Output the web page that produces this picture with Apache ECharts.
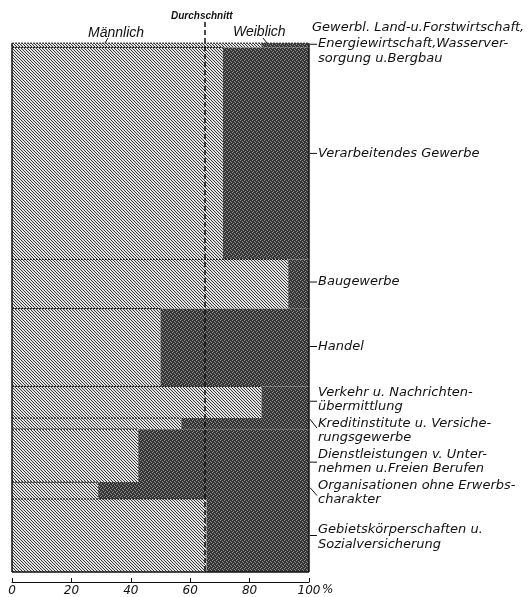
<!DOCTYPE html>
<html lang="de">
<head>
<meta charset="UTF-8">
<title>Beschäftigte nach Wirtschaftsbereichen</title>
<style>
  html, body { margin: 0; padding: 0; background: #fff; }
  #main { width: 531px; height: 597px; }
</style>
</head>
<body>
<div id="main"></div>
<script src="https://cdn.jsdelivr.net/npm/echarts@6/dist/echarts.min.js"></script>
<script>
// Wirtschaftsbereiche, von oben nach unten
var categories = [
  'Gewerbl. Land-u.Forstwirtschaft,\nEnergiewirtschaft,Wasserver-\nsorgung u.Bergbau',
  'Verarbeitendes Gewerbe',
  'Baugewerbe',
  'Handel',
  'Verkehr u. Nachrichten-\nübermittlung',
  'Kreditinstitute u. Versiche-\nrungsgewerbe',
  'Dienstleistungen v. Unter-\nnehmen u.Freien Berufen',
  'Organisationen ohne Erwerbs-\ncharakter',
  'Gebietskörperschaften u.\nSozialversicherung'
];
// Anteil des Bereichs an allen Beschäftigten (Balkenhöhe), %
var shareTotal = [0.8, 40.1, 9.3, 14.7, 6.0, 2.1, 10.0, 3.2, 13.8];
// Männeranteil im Bereich, %
var maleShare = [84, 71, 93, 50, 84, 57, 42.5, 29, 65.5];
// Durchschnitt Männeranteil, %
var avgMale = 65;
var xTicks = [0, 20, 40, 60, 80, 100];

// Lage der Beschriftungen rechts (px relativ zur Balkenmitte)
var labelLayout = [
  { dy: -2, l0: -1, l1: -1, lh: 15.5 },
  { dy: 0, l0: 0, l1: 0, lh: 14 },
  { dy: -2, l0: -2, l1: -2, lh: 14 },
  { dy: -1, l0: -1, l1: -1, lh: 14 },
  { dy: -2.5, l0: -1, l1: -1, lh: 13.5 },
  { dy: 7, l0: -4.5, l1: 4.5, lh: 13.5 },
  { dy: 6, l0: 6.5, l1: 6.5, lh: 13.5 },
  { dy: 2.5, l0: -3, l1: 5, lh: 14 },
  { dy: 2, l0: 0, l1: 0, lh: 15 }
];

function makePattern(bg, fg, pts, size) {
  var c = document.createElement('canvas');
  c.width = c.height = size;
  var ctx = c.getContext('2d');
  ctx.fillStyle = bg;
  ctx.fillRect(0, 0, size, size);
  ctx.fillStyle = fg;
  pts.forEach(function (p) { ctx.fillRect(p[0], p[1], 1, 1); });
  return { image: c, repeat: 'repeat' };
}
var malePattern = makePattern('#e2e2e2', '#3a3a3a', [[0, 0], [1, 1], [2, 2]], 3);
var femalePattern = makePattern('#363636', '#8c8c8c', [[0, 0], [2, 1], [1, 3], [3, 2]], 4);

var rows = [];
var acc = 0;
for (var i = 0; i < categories.length; i++) {
  rows.push([acc, acc + shareTotal[i], maleShare[i], i]);
  acc += shareTotal[i];
}

var font = 'italic 13px "DejaVu Sans", sans-serif';

function renderItem(params, api) {
  var start = api.value(0), end = api.value(1), male = api.value(2), idx = api.value(3);
  var tl = api.coord([0, start]);
  var br = api.coord([100, end]);
  var mx = api.coord([male, start])[0];
  var h = br[1] - tl[1];
  var ink = '#111';
  var ch = [
    { type: 'rect', shape: { x: tl[0], y: tl[1], width: mx - tl[0], height: h }, style: { fill: malePattern } },
    { type: 'rect', shape: { x: mx, y: tl[1], width: br[0] - mx, height: h }, style: { fill: femalePattern } },
    { type: 'line', shape: { x1: tl[0], y1: tl[1], x2: idx === 0 ? br[0] : mx, y2: tl[1] },
      style: { stroke: ink, lineWidth: 1, lineDash: [2, 1] } },
    { type: 'line', shape: { x1: tl[0], y1: tl[1], x2: tl[0], y2: br[1] }, style: { stroke: ink, lineWidth: 1.5 } },
    { type: 'line', shape: { x1: br[0], y1: tl[1], x2: br[0], y2: br[1] }, style: { stroke: ink, lineWidth: 1.5 } }
  ];
  if (idx === categories.length - 1) {
    ch.push({ type: 'line', shape: { x1: tl[0], y1: br[1], x2: br[0], y2: br[1] }, style: { stroke: ink, lineWidth: 1.5 } });
  }
  var mid = (tl[1] + br[1]) / 2;
  var lay = labelLayout[idx];
  ch.push({ type: 'line', shape: { x1: br[0] + 1, y1: mid + lay.l0, x2: br[0] + 8, y2: mid + lay.l1 },
    style: { stroke: ink, lineWidth: 1 } });
  var lines = categories[idx].split('\n');
  lines.forEach(function (t, k) {
    ch.push({ type: 'text', style: {
      text: t,
      x: br[0] + 9 + (idx === 0 && k === 0 ? -6 : 0),
      y: mid + lay.dy + (k - (lines.length - 1) / 2) * lay.lh,
      align: 'left', verticalAlign: 'middle', font: font, fill: ink
    } });
  });
  return { type: 'group', children: ch };
}

var myChart = echarts.init(document.getElementById('main'));
var option = {
  animation: false,
  grid: { left: 12, right: 222, top: 22, bottom: 25 },
  xAxis: {
    type: 'value', min: 0, max: 100, interval: 20, offset: 10, position: 'bottom',
    axisLine: { onZero: false, lineStyle: { color: '#111', width: 1 } },
    axisTick: { inside: true, length: 4, lineStyle: { color: '#111' } },
    splitLine: { show: false },
    axisLabel: {
      margin: 3, color: '#111', fontStyle: 'italic', fontSize: 12,
      fontFamily: '"DejaVu Sans", sans-serif',
      customValues: xTicks
    }
  },
  yAxis: { type: 'value', inverse: true, min: -4, max: 100, show: false },
  series: [{
    type: 'custom',
    renderItem: renderItem,
    encode: { x: [2], y: [0, 1] },
    data: rows,
    markLine: {
      silent: true, symbol: ['none', 'none'], label: { show: false },
      lineStyle: { color: '#111', type: [5, 3], width: 1.5 },
      data: [[{ coord: [avgMale, -4] }, { coord: [avgMale, 100] }]]
    }
  }],
  graphic: [
    { type: 'text', left: 88, top: 26, style: { text: 'Männlich', font: 'italic 14px "Liberation Sans", Arial, sans-serif', fill: '#111' } },
    { type: 'text', left: 233, top: 25, style: { text: 'Weiblich', font: 'italic 14px "Liberation Sans", Arial, sans-serif', fill: '#111' } },
    { type: 'text', left: 171, top: 11, style: { text: 'Durchschnitt', font: 'italic bold 10px "Liberation Sans", Arial, sans-serif', fill: '#111' } },
    { type: 'line', shape: { x1: 108, y1: 38, x2: 105, y2: 43 }, style: { stroke: '#111', lineWidth: 1 } },
    { type: 'line', shape: { x1: 263, y1: 38, x2: 267, y2: 43 }, style: { stroke: '#111', lineWidth: 1 } },
    { type: 'text', left: 322, top: 584, style: { text: '%', font: 'italic 12px "DejaVu Sans", sans-serif', fill: '#111' } }
  ]
};
myChart.setOption(option);
</script>
</body>
</html>
